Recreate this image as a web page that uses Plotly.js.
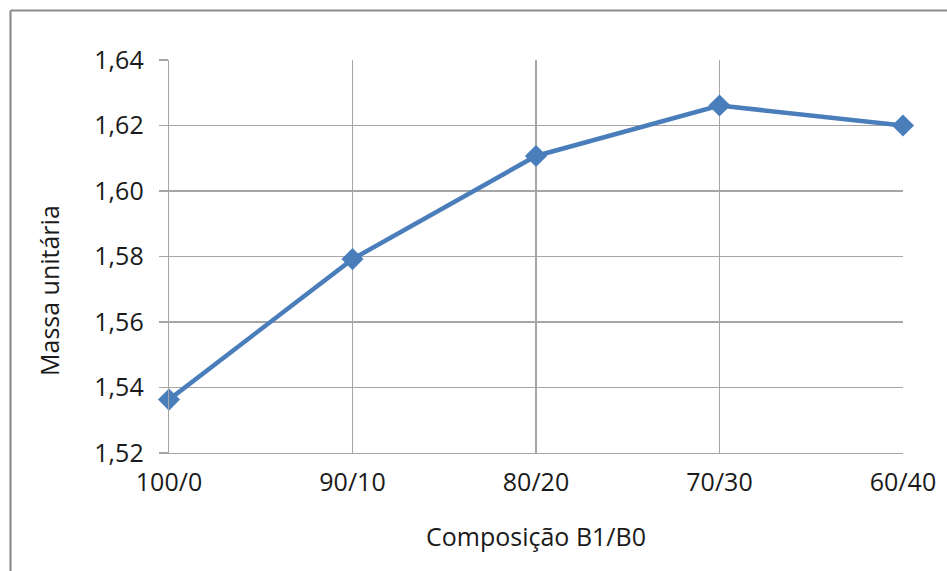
<!DOCTYPE html>
<html>
<head>
<meta charset="utf-8">
<script src="https://cdn.plot.ly/plotly-3.0.1.min.js"></script>
<style>
  html, body { margin: 0; padding: 0; background: #ffffff; }
  #chart { width: 947px; height: 571px; }
</style>
</head>
<body>
<div id="chart"></div>
<script>
// Composição B1/B0 versus massa unitária
const composicoes = ['100/0', '90/10', '80/20', '70/30', '60/40'];
const massaUnitaria = [1.5363, 1.5792, 1.6107, 1.6261, 1.6200];
const yTicks = [1.52, 1.54, 1.56, 1.58, 1.60, 1.62, 1.64];
const yTickLabels = ['1,52', '1,54', '1,56', '1,58', '1,60', '1,62', '1,64'];

const W = 947, H = 571;
const margin = { l: 169, r: 44, t: 60, b: 118 };
const plotW = W - margin.l - margin.r;
const plotH = H - margin.t - margin.b;
// pixel -> paper helpers for the frame and the vertical title
const px = v => (v - margin.l) / plotW;
const py = v => 1 - (v - margin.t) / plotH;

const font = 'Open Sans, DejaVu Sans, sans-serif';
const textColor = '#1a1a1a';
const gridColor = '#a6a6a6';
const frameColor = '#8c8c8c';
const fs = 25;

const xIdx = composicoes.map((_, i) => i);

const trace = {
  x: xIdx,
  y: massaUnitaria,
  type: 'scatter',
  mode: 'lines+markers',
  line: { color: '#4a7ebb', width: 4.5 },
  marker: { symbol: 'diamond', size: 17, color: '#4a7ebb' },
  cliponaxis: false,
  hoverinfo: 'skip'
};

const layout = {
  width: W,
  height: H,
  margin: margin,
  paper_bgcolor: '#ffffff',
  plot_bgcolor: '#ffffff',
  showlegend: false,
  font: { family: font, color: textColor, size: fs },
  xaxis: {
    range: [0, 4],
    tickvals: xIdx,
    ticktext: composicoes,
    showgrid: true,
    gridcolor: gridColor,
    gridwidth: 1.3,
    zeroline: false,
    showline: true,
    linecolor: gridColor,
    linewidth: 1.3,
    ticks: '',
    tickfont: { family: font, size: fs, color: textColor },
    ticklabelstandoff: 7,
    title: { text: 'Composição B1/B0', font: { family: font, size: fs, color: textColor }, standoff: 31 },
    fixedrange: true
  },
  yaxis: {
    range: [1.52, 1.64],
    tickvals: yTicks,
    ticktext: yTickLabels,
    showgrid: true,
    gridcolor: gridColor,
    gridwidth: 1.3,
    zeroline: false,
    showline: true,
    linecolor: gridColor,
    linewidth: 1.3,
    ticks: 'outside',
    ticklen: 9,
    tickwidth: 1.3,
    tickcolor: gridColor,
    tickfont: { family: font, size: fs, color: textColor },
    ticklabelstandoff: 10,
    fixedrange: true
  },
  annotations: [
    { text: 'Massa unitária', xref: 'paper', yref: 'paper', x: px(49), y: py(291),
      xanchor: 'center', yanchor: 'middle', textangle: -90, showarrow: false,
      font: { family: font, size: fs, color: textColor } }
  ],
  shapes: [
    { type: 'line', xref: 'paper', yref: 'paper', x0: px(10.5), x1: px(W + 5), y0: py(10.5), y1: py(10.5),
      line: { color: frameColor, width: 2.2 } },
    { type: 'line', xref: 'paper', yref: 'paper', x0: px(10.5), x1: px(10.5), y0: py(10.5), y1: py(H + 5),
      line: { color: frameColor, width: 2.2 } }
  ]
};

Plotly.newPlot('chart', [trace], layout, { staticPlot: true, displayModeBar: false });
</script>
</body>
</html>
